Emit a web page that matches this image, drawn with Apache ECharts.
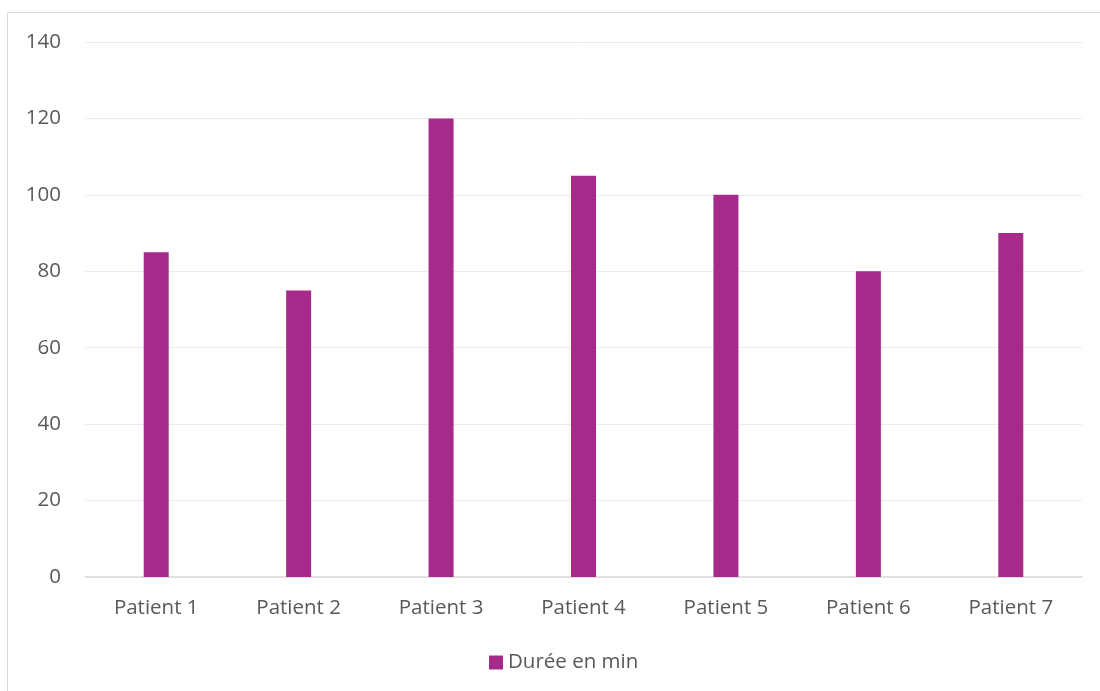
<!DOCTYPE html>
<html>
<head>
<meta charset="utf-8">
<script src="https://cdn.jsdelivr.net/npm/echarts@6/dist/echarts.min.js"></script>
<style>
  html, body { margin: 0; padding: 0; background: #ffffff; }
  #chart { width: 1100px; height: 691px; }
</style>
</head>
<body>
<div id="chart"></div>
<script>
// Durée des séances par patient (minutes)
const categories = ['Patient 1', 'Patient 2', 'Patient 3', 'Patient 4', 'Patient 5', 'Patient 6', 'Patient 7'];
const dureeValues = [85, 75, 120, 105, 100, 80, 90];
const seriesName = 'Durée en min';

const FONT = '"Open Sans", "Noto Sans", sans-serif';
const TEXT_COLOR = '#595959';

const chart = echarts.init(document.getElementById('chart'));
chart.setOption({
  animation: false,
  backgroundColor: '#ffffff',
  graphic: [{
    type: 'rect',
    shape: { x: 7.5, y: 12.5, width: 1200, height: 1000 },
    style: { fill: 'none', stroke: '#d9d9d9', lineWidth: 1 },
    silent: true
  }],
  grid: { left: 85, right: 18, top: 42, bottom: 114 },
  legend: {
    bottom: 13,
    left: 484,
    itemWidth: 14,
    itemHeight: 14,
    itemGap: 6,
    icon: 'rect',
    textStyle: { fontFamily: FONT, fontSize: 20.5, color: TEXT_COLOR },
    data: [seriesName]
  },
  xAxis: {
    type: 'category',
    data: categories,
    axisTick: { show: false },
    axisLine: { lineStyle: { color: '#d9d9d9', width: 1.5 } },
    axisLabel: { fontFamily: FONT, fontSize: 20.5, color: TEXT_COLOR, margin: 21 }
  },
  yAxis: {
    type: 'value',
    min: 0,
    max: 140,
    interval: 20,
    axisLine: { show: false },
    axisTick: { show: false },
    splitLine: { lineStyle: { color: '#ececec', width: 1 } },
    axisLabel: { fontFamily: FONT, fontSize: 20.5, color: TEXT_COLOR, margin: 24 }
  },
  series: [{
    name: seriesName,
    type: 'bar',
    data: dureeValues,
    barWidth: 25,
    itemStyle: { color: '#A62A8A' }
  }]
});
</script>
</body>
</html>
